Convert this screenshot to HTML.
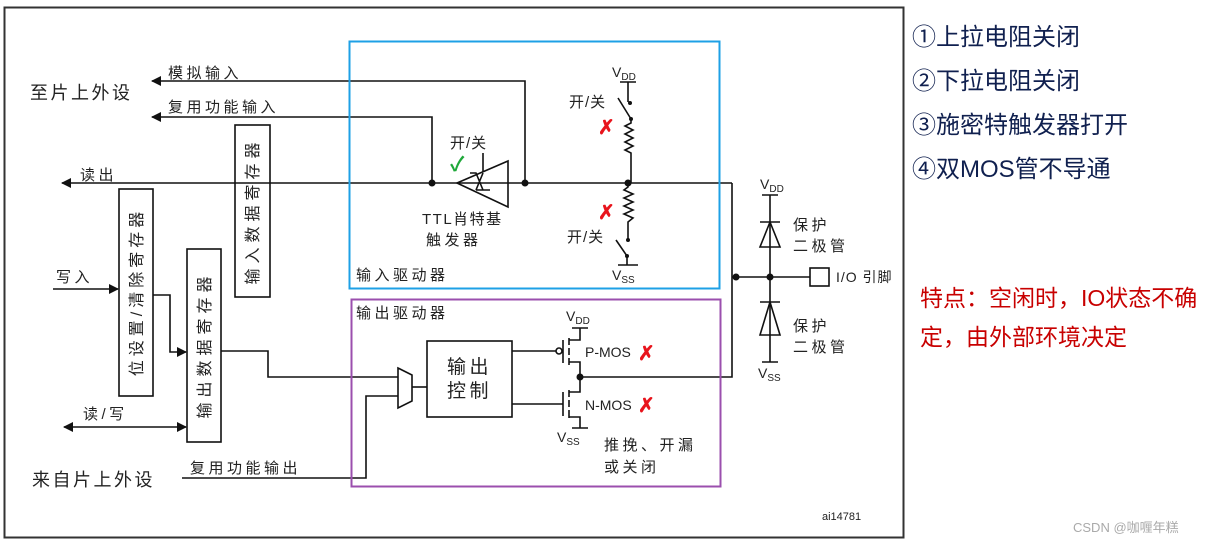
<!DOCTYPE html>
<html><head><meta charset="utf-8"><style>
body{margin:0;background:#fff;}
svg{display:block;}
text{font-family:"Liberation Sans","Noto Sans CJK SC",sans-serif;fill:#222;}
.cj{letter-spacing:3.5px;}
</style></head><body>
<svg width="1225" height="545" viewBox="0 0 1225 545" xmlns="http://www.w3.org/2000/svg">
<defs>
<marker id="ar" markerWidth="10" markerHeight="10" refX="9" refY="5" orient="auto" markerUnits="userSpaceOnUse"><path d="M0,0 L10,5 L0,10 z" fill="#111"/></marker>
<marker id="al" markerWidth="10" markerHeight="10" refX="1" refY="5" orient="auto" markerUnits="userSpaceOnUse"><path d="M10,0 L0,5 L10,10 z" fill="#111"/></marker>
</defs>
<rect x="4.5" y="7.5" width="899" height="530" fill="none" stroke="#333" stroke-width="2"/>
<g stroke="#111" stroke-width="1.6" fill="none">
<path d="M525,183 V81 H152" marker-end="url(#ar)"/>
<path d="M432,183 V117 H152" marker-end="url(#ar)"/>
<path d="M732,183 H62" marker-end="url(#ar)"/>
<path d="M732,183 V377 H580"/>
<path d="M732,277 H810"/>
<path d="M770,195 V362 M762,195 H778 M762,362 H778"/>
<path d="M760,222 H780 M770,222 L760,247 H780 Z"/>
<path d="M760,302 H780 M770,302 L760,335 H780 Z"/>
<rect x="810" y="268" width="19" height="18"/>
<path d="M620,82 H636 M628,82 V102 M618,98 L631,119 M631,119 V123 L625,126 L633,130 L625,134 L633,138 L625,142 L633,146 L625,150 L631,153 V183"/>
<path d="M628,183 V187 L624,190 L633,194 L624,198 L633,202 L624,206 L633,210 L624,214 L633,218 L628,222 V240 M616,240 L627,256 M627,256 V265 M618,265 H638"/>
<path d="M457,183 L508,161 V207 Z"/>
<path d="M483,153 V172 M476,190 H490 M483,190 L476,173 H470 M476,190 L483,173"/>
<rect x="119" y="189" width="34" height="207"/>
<rect x="187" y="249" width="34" height="193"/>
<rect x="235" y="125" width="35" height="172"/>
<path d="M53,289 H118" marker-end="url(#ar)"/>
<path d="M153,295 H170 V352 H186" marker-end="url(#ar)"/>
<path d="M64,427 H186" marker-start="url(#al)" marker-end="url(#ar)"/>
<path d="M221,351 H268 V377 H398"/>
<path d="M182,478 H366 V396 H398"/>
<path d="M398,368 L412,375 V401 L398,408 Z"/>
<path d="M412,387 H427"/>
<rect x="427" y="341" width="85" height="76"/>
<path d="M512,351 H556"/>
<circle cx="559" cy="351" r="3"/>
<path d="M563,340 V363 M569,338 V345 M569,348 V355 M569,358 V365 M569,340 H580 V328 M572,328 H588 M569,362 H580 V392 H569 M512,404 H563 M563,392 V416 M569,390 V397 M569,400 V407 M569,410 V418 M569,417 H580 V428 M572,428 H588" />
</g>
<g fill="#111">
<circle cx="432" cy="183" r="3.5"/><circle cx="525" cy="183" r="3.5"/><circle cx="628" cy="183" r="3.5"/>
<circle cx="630" cy="103" r="2"/><circle cx="631" cy="119" r="2"/><circle cx="628" cy="240" r="2"/><circle cx="627" cy="256" r="2"/>
<circle cx="736" cy="277" r="3.5"/><circle cx="770" cy="277" r="3.5"/><circle cx="580" cy="377" r="3.5"/>
</g>
<rect x="349.5" y="41.5" width="370" height="247" fill="none" stroke="#1ea0e6" stroke-width="2"/>
<rect x="351.5" y="299.5" width="369" height="187" fill="none" stroke="#9b4fae" stroke-width="2"/>
<g font-size="15" class="cj">
<text x="168" y="78">模拟输入</text>
<text x="168" y="112">复用功能输入</text>
<text x="80" y="180">读出</text>
<text x="56" y="282">写入</text>
<text x="83" y="419">读/写</text>
<text x="190" y="473">复用功能输出</text>
<text x="356" y="280">输入驱动器</text>
<text x="356" y="318">输出驱动器</text>
<text x="450" y="148" style="letter-spacing:1px">开/关</text>
<text x="569" y="107" style="letter-spacing:1px">开/关</text>
<text x="567" y="242" style="letter-spacing:1px">开/关</text>
<text x="422" y="224" style="letter-spacing:1.5px">TTL肖特基</text>
<text x="426" y="245">触发器</text>
<text x="793" y="230">保护</text><text x="793" y="251">二极管</text>
<text x="793" y="331">保护</text><text x="793" y="352">二极管</text>
<text x="836" y="282" font-size="14" style="letter-spacing:1px">I/O 引脚</text>
<text x="604" y="450">推挽、开漏</text>
<text x="604" y="472">或关闭</text>
<text x="585" y="357" font-size="14" style="letter-spacing:0">P-MOS</text>
<text x="585" y="410" font-size="14" style="letter-spacing:0">N-MOS</text>
</g>
<text x="447" y="373" font-size="19" class="cj">输出</text>
<text x="447" y="397" font-size="19" class="cj">控制</text>
<text x="30" y="99" font-size="18" style="letter-spacing:2.5px">至片上外设</text>
<text x="32" y="486" font-size="18" style="letter-spacing:2.5px">来自片上外设</text>
<g font-size="14">
<text x="612" y="77">V<tspan font-size="10" dy="3">DD</tspan></text>
<text x="612" y="280">V<tspan font-size="10" dy="3">SS</tspan></text>
<text x="760" y="189">V<tspan font-size="10" dy="3">DD</tspan></text>
<text x="758" y="378">V<tspan font-size="10" dy="3">SS</tspan></text>
<text x="566" y="321">V<tspan font-size="10" dy="3">DD</tspan></text>
<text x="557" y="442">V<tspan font-size="10" dy="3">SS</tspan></text>
</g>
<g font-size="16">
<text transform="translate(142,292) rotate(-90)" text-anchor="middle" style="letter-spacing:4px">位设置/清除寄存器</text>
<text transform="translate(210,345) rotate(-90)" text-anchor="middle" style="letter-spacing:5px">输出数据寄存器</text>
<text transform="translate(258,211) rotate(-90)" text-anchor="middle" style="letter-spacing:5px">输入数据寄存器</text>
</g>
<g font-size="20" font-weight="bold">
<text x="598" y="134" style="fill:#e8141c">✗</text>
<text x="598" y="219" style="fill:#e8141c">✗</text>
<text x="638" y="360" style="fill:#e8141c">✗</text>
<text x="638" y="412" style="fill:#e8141c">✗</text>
<text x="450" y="171" style="fill:#1fa83a">✓</text>
</g>
<text x="822" y="520" font-size="11">ai14781</text>
<g font-size="24">
<text x="912" y="45" style="fill:#10204f">①上拉电阻关闭</text>
<text x="912" y="89" style="fill:#10204f">②下拉电阻关闭</text>
<text x="912" y="133" style="fill:#10204f">③施密特触发器打开</text>
<text x="912" y="177" style="fill:#10204f">④双MOS管不导通</text>
</g>
<text x="920" y="306" font-size="23" style="fill:#c80000">特点：空闲时，IO状态不确</text>
<text x="920" y="345" font-size="23" style="fill:#c80000">定，由外部环境决定</text>
<text x="1073" y="532" font-size="13" style="fill:#aaa">CSDN @咖喱年糕</text>
</svg>
</body></html>
